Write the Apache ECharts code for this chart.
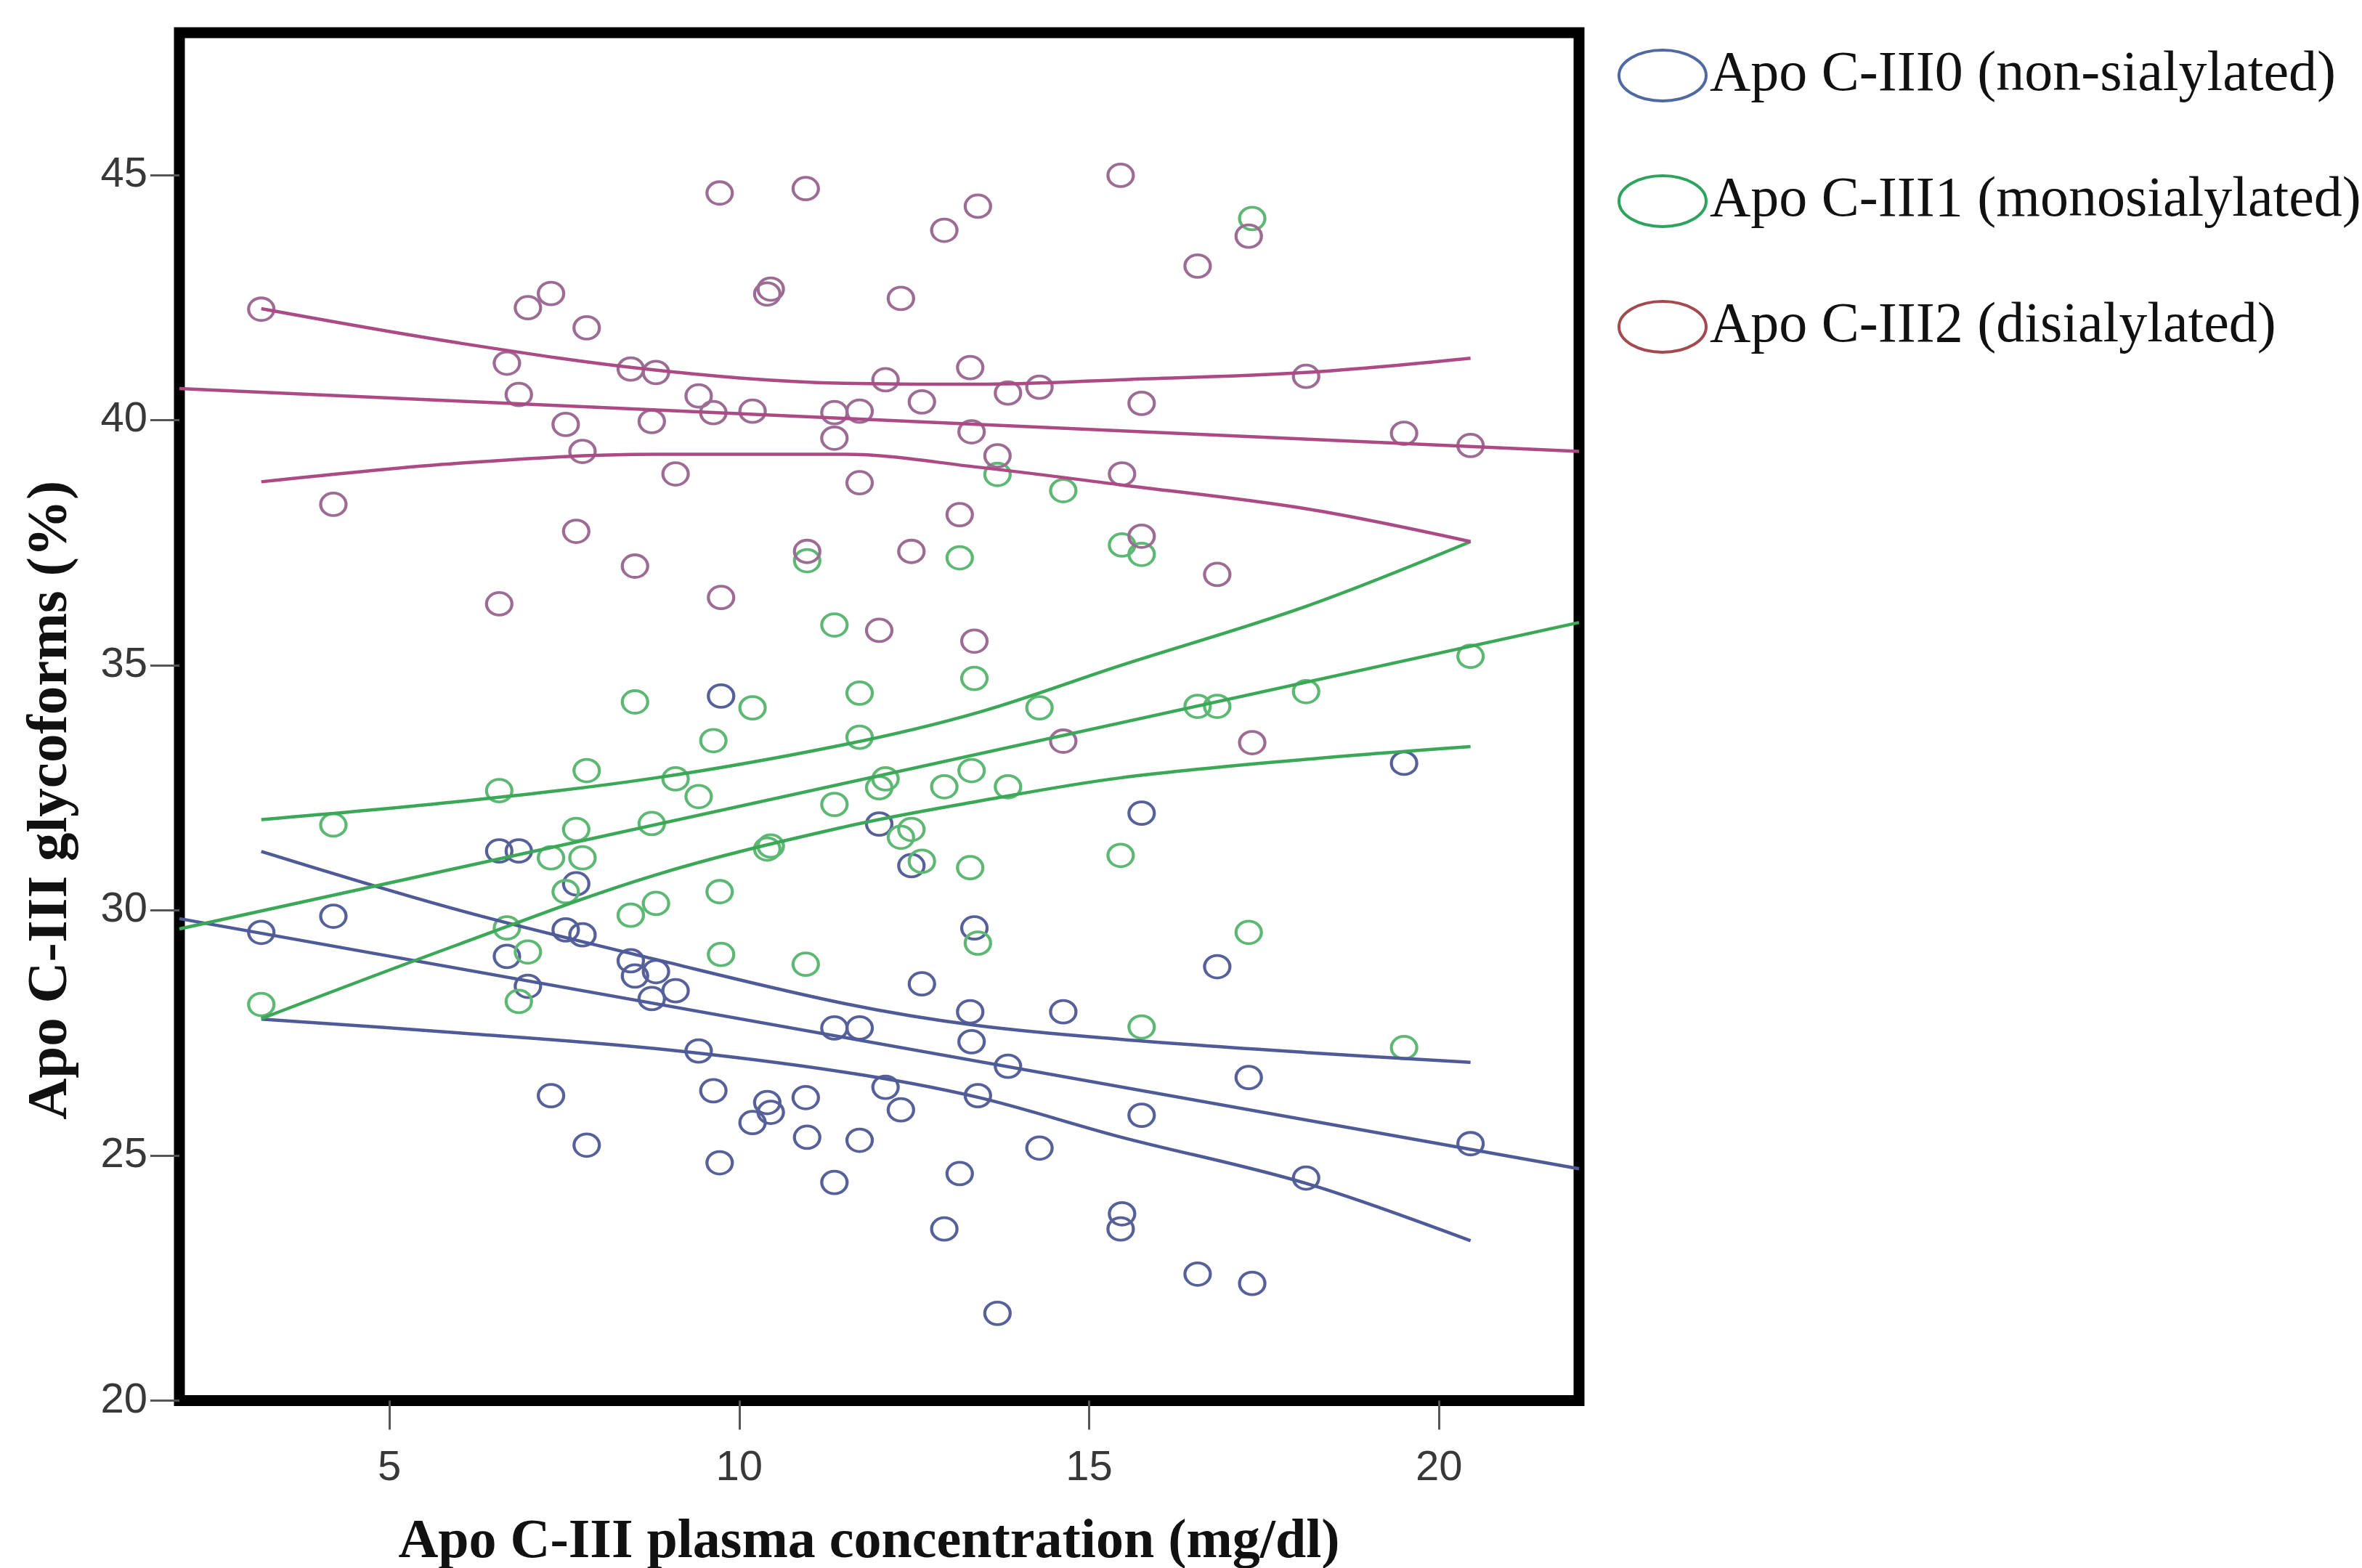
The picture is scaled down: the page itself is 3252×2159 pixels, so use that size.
<!DOCTYPE html>
<html>
<head>
<meta charset="utf-8">
<script src="https://cdn.jsdelivr.net/npm/echarts@6/dist/echarts.min.js"></script>
<style>html,body{margin:0;padding:0;background:#fff}#c{width:3252px;height:2159px}</style>
</head>
<body>
<div id="c"></div>
<script>
// Apo C-III plasma concentration (mg/dl), one value per subject
const concentration = [3.17,4.20,6.57,6.68,6.85,6.98,7.31,7.52,7.67,7.76,7.82,8.45,8.51,8.75,8.81,9.09,9.42,9.63,9.72,9.74,10.19,10.40,10.45,10.95,10.97,11.36,11.36,11.72,11.72,12.00,12.09,12.31,12.46,12.61,12.93,13.15,13.30,13.32,13.36,13.41,13.69,13.84,14.29,14.63,15.45,15.47,15.75,15.75,16.55,16.83,17.28,17.33,18.10,19.50,20.45];
// Glycoform percentages
const nonSialylated = [29.55,29.88,31.21,29.06,31.21,28.45,26.22,29.60,30.54,29.50,25.21,28.97,28.66,28.20,28.75,28.36,27.13,26.32,24.85,34.37,25.67,26.08,25.88,26.18,25.37,27.60,24.45,25.31,27.60,31.76,26.39,25.93,30.91,28.50,23.50,24.63,27.93,27.32,29.64,26.22,21.78,26.82,25.15,27.93,23.50,23.81,31.98,25.82,22.58,28.85,26.59,22.39,24.54,33.00,25.24];
const monosialylated = [28.08,31.74,32.44,29.64,28.14,29.15,31.07,30.38,31.65,31.07,32.85,29.90,34.25,31.77,30.14,32.68,32.32,33.46,30.38,29.10,34.13,31.25,31.31,28.90,37.13,32.16,35.82,34.43,33.53,32.50,32.68,31.49,31.65,31.00,32.52,37.19,30.87,32.85,34.73,29.33,38.89,32.52,34.13,38.56,31.12,37.45,27.62,37.26,34.16,34.16,29.55,44.11,34.46,27.20,35.18];
const disialylated = [42.26,38.28,36.25,41.16,40.52,42.29,42.58,39.91,37.73,39.36,41.88,41.04,37.02,39.97,40.97,38.90,40.49,40.15,44.63,36.38,40.18,42.57,42.67,44.72,37.32,40.15,39.63,40.18,38.72,35.71,40.82,42.48,37.32,40.37,43.87,38.07,41.07,39.76,35.49,44.36,39.27,40.55,40.67,33.45,44.99,38.90,40.34,37.63,43.14,36.85,43.75,33.42,40.89,39.73,39.48];

// Fit lines
const fitX = [2, 22];
const fitNon = [29.83, 24.73];
const fitMono = [29.62, 35.87];
const fitDi = [40.64, 39.36];

// Confidence curves
const ciX = [3.17, 6, 8.8, 11.5, 13.4, 15.44, 18.1, 20.45];
const ciNonUpper = [31.2, 30.0, 29.0, 28.1, 27.65, 27.37, 27.1, 26.9];
const ciNonLower = [27.78, 27.5, 27.18, 26.7, 26.19, 25.38, 24.43, 23.26];
const ciMonoUpper = [31.85, 32.22, 32.7, 33.38, 34.03, 34.99, 36.2, 37.52];
const ciMonoLower = [27.79, 29.31, 30.72, 31.7, 32.22, 32.7, 33.08, 33.34];
const ciDiUpper = [42.27, 41.57, 41.02, 40.75, 40.73, 40.82, 40.97, 41.26];
const ciDiLower = [38.74, 39.12, 39.3, 39.3, 39.04, 38.68, 38.19, 37.52];

const xTicks = [5, 10, 15, 20];
const yTicks = [20, 25, 30, 35, 40, 45];

const names = ['Apo C-III0 (non-sialylated)', 'Apo C-III1 (monosialylated)', 'Apo C-III2 (disialylated)'];
const markerColors = ['#56619a', '#5db873', '#9d6c94'];
const lineColors = ['#4f5a99', '#3aa856', '#ab4a85'];
const legendColors = ['#4f6aa2', '#2ea35e', '#a24a4e'];

const ellipse = 'path://M0,50 A50,50 0 1,1 100,50 A50,50 0 1,1 0,50 Z';

function pairs(xs, ys) { return xs.map((x, i) => [x, ys[i]]); }

const groups = [
  {pts: nonSialylated, fit: fitNon, up: ciNonUpper, lo: ciNonLower},
  {pts: monosialylated, fit: fitMono, up: ciMonoUpper, lo: ciMonoLower},
  {pts: disialylated, fit: fitDi, up: ciDiUpper, lo: ciDiLower}
];

const series = [];
groups.forEach((g, i) => {
  series.push({
    name: names[i], type: 'scatter', symbol: ellipse, symbolSize: [35, 31],
    data: pairs(concentration, g.pts), z: 2, silent: true,
    itemStyle: {color: 'rgba(255,255,255,0)', borderColor: markerColors[i], borderWidth: 4, opacity: 1}
  });
});
groups.forEach((g, i) => {
  const ls = {color: lineColors[i], width: 4.5};
  series.push({name: 'fit' + i, type: 'line', data: pairs(fitX, g.fit), showSymbol: false, symbol: 'none', lineStyle: ls, z: 3, silent: true});
  series.push({name: 'up' + i, type: 'line', data: pairs(ciX, g.up), smooth: 0.35, showSymbol: false, symbol: 'none', lineStyle: ls, z: 3, silent: true});
  series.push({name: 'lo' + i, type: 'line', data: pairs(ciX, g.lo), smooth: 0.35, showSymbol: false, symbol: 'none', lineStyle: ls, z: 3, silent: true});
});

const chart = echarts.init(document.getElementById('c'), null, {renderer: 'canvas'});
chart.setOption({
  animation: false,
  backgroundColor: '#ffffff',
  grid: {left: 247, right: 1078, top: 45, bottom: 230.5, show: true, borderColor: '#000', borderWidth: 15, containLabel: false, outerBoundsMode: 'none'},
  legend: {
    orient: 'vertical', left: 2222, top: 60, itemWidth: 120, itemHeight: 70, itemGap: 95,
    symbolKeepAspect: false, selectedMode: false,
    textStyle: {fontFamily: 'Liberation Serif', fontSize: 78, color: '#111', lineHeight: 70, padding: [0, 0, 0, 0]},
    data: names.map((n, i) => ({name: n, icon: ellipse, itemStyle: {color: 'rgba(255,255,255,0)', borderColor: legendColors[i], borderWidth: 4}}))
  },
  xAxis: {
    type: 'value', min: 2, max: 22,
    name: 'Apo C-III plasma concentration (mg/dl)', nameLocation: 'middle', nameGap: 158, nameMoveOverlap: false,
    nameTextStyle: {fontFamily: 'Liberation Serif', fontWeight: 'bold', fontSize: 76, color: '#111', padding: [0, 28, 0, 0]},
    axisLine: {show: false},
    axisTick: {show: true, customValues: xTicks, length: 40, lineStyle: {color: '#555', width: 3}},
    axisLabel: {customValues: xTicks, fontFamily: 'Liberation Sans', fontSize: 58, color: '#383838', margin: 44, verticalAlign: 'top', padding: [20, 0, 0, 0]},
    splitLine: {show: false}
  },
  yAxis: {
    type: 'value', min: 20, max: 47.9,
    name: 'Apo C-III glycoforms (%)', nameLocation: 'middle', nameGap: 137,
    nameTextStyle: {fontFamily: 'Liberation Serif', fontWeight: 'bold', fontSize: 79, color: '#111', padding: [0, 230, 0, 0]},
    axisLine: {show: false},
    axisTick: {show: true, customValues: yTicks, length: 40, lineStyle: {color: '#555', width: 3}},
    axisLabel: {customValues: yTicks, fontFamily: 'Liberation Sans', fontSize: 58, color: '#383838', margin: 44, align: 'right'},
    splitLine: {show: false}
  },
  series: series
});
</script>
</body>
</html>
